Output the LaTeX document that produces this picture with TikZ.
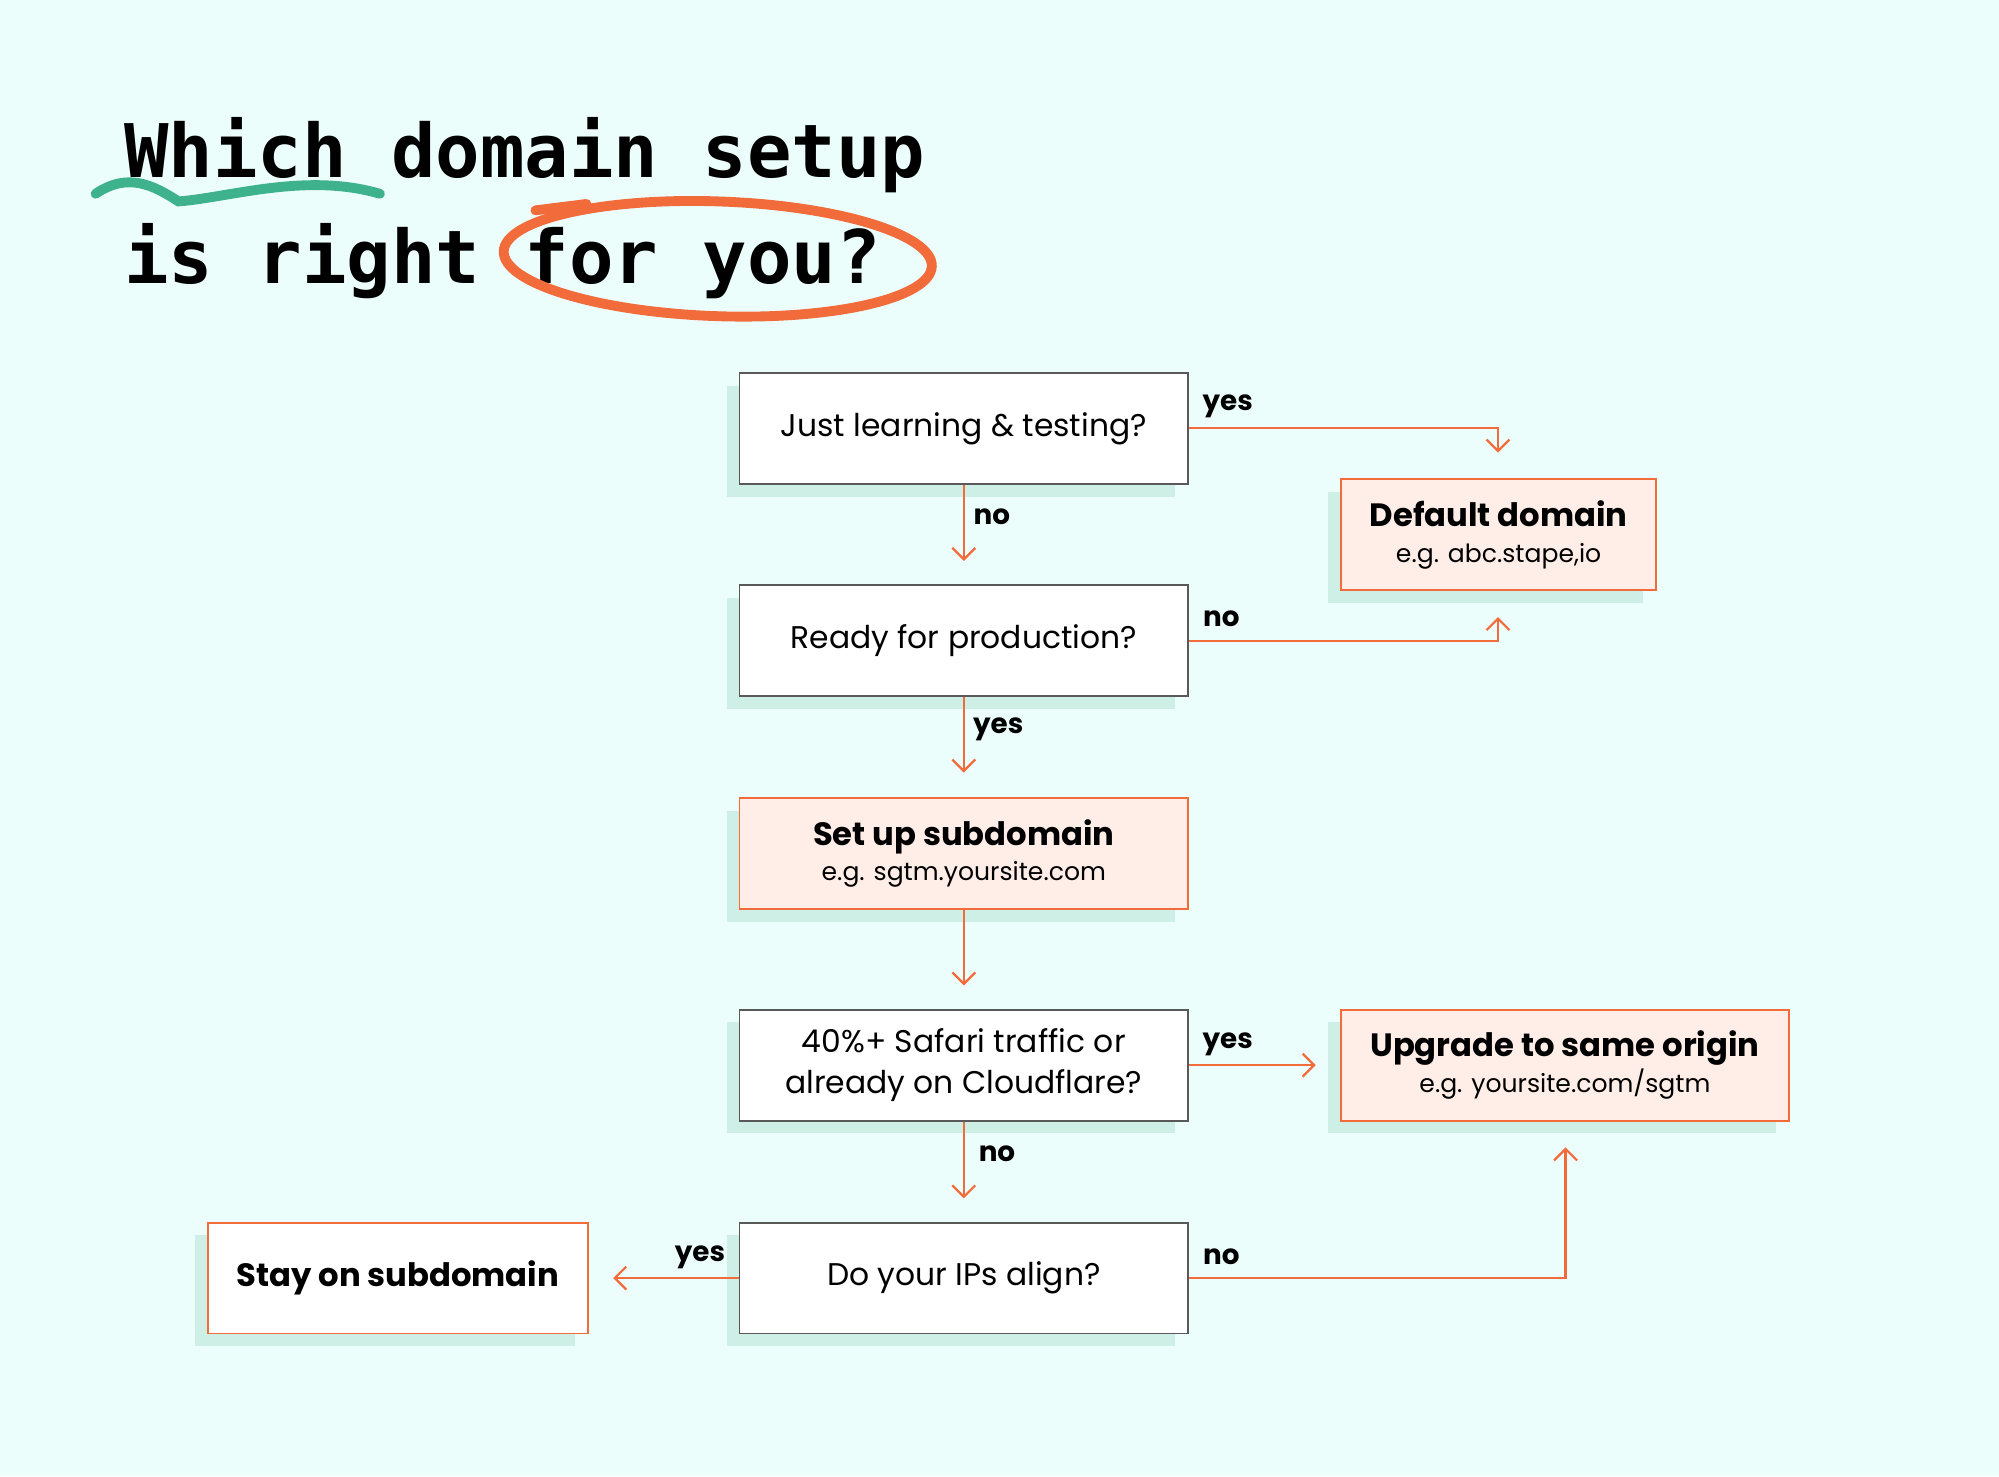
\documentclass[tikz,border=0pt]{standalone}
\usepackage{fontspec}
\setmainfont{Poppins}
\newfontfamily\titlefont{DejaVu Sans Mono}
\usetikzlibrary{arrows.meta}
\definecolor{fondo}{HTML}{ECFEFC}
\definecolor{sombra}{HTML}{CDEFE6}
\definecolor{naranja}{HTML}{F26B3A}
\definecolor{rosa}{HTML}{FFEDE8}
\definecolor{verde}{HTML}{3DB28C}
\tikzset{
  caja/.style={draw=black!65, fill=white, line width=0.4pt, minimum height=0.87cm, inner sep=0pt, align=center, font=\fontsize{7}{10}\selectfont,
    preaction={fill=sombra, transform canvas={xshift=-0.1cm, yshift=-0.1cm}}},
  final/.style={caja, draw=naranja, fill=rosa},
  flecha/.style={draw=naranja, line width=0.5pt, -{Straight Barb[length=0.9mm, width=1.8mm]}},
  etiq/.style={font=\bfseries\fontsize{6.2}{8}\selectfont},
  titu/.style={font=\titlefont\bfseries\fontsize{16.5}{20}\selectfont}
}
\begin{document}
\begin{tikzpicture}
		\fill[fondo] (0,0) rectangle (15.68,-11.58);
		\useasboundingbox (0,0) rectangle (15.68,-11.58);

		%Titulo
		\draw[verde, line width=2.2pt, line cap=round] (0.75,-1.52) .. controls (1.0,-1.35) and (1.2,-1.45) .. (1.4,-1.58) .. controls (1.8,-1.55) and (2.4,-1.35) .. (2.98,-1.52);
		\node[anchor=west, titu] (titulo1) at (0.85,-1.22) {Which domain setup};
		\node[anchor=west, titu] (titulo2) at (0.85,-2.05) {is right for you?};
		\draw[naranja, line width=2.2pt, rotate around={-2:(5.63,-2.03)}] (5.63,-2.03) ellipse (1.68cm and 0.45cm);
		\draw[naranja, line width=2.2pt, line cap=round] (4.2,-1.65) -- (4.6,-1.6);

		%Nodos
		\node [caja, minimum width=3.52cm] (preg1) at (7.56,-3.36) {Just learning \& testing?};
		\node [caja, minimum width=3.52cm] (preg2) at (7.56,-5.025) {Ready for production?};
		\node [final, minimum width=3.52cm] (sub) at (7.56,-6.695) {\textbf{\fontsize{7.2}{10}\selectfont Set up subdomain}\\[-2pt]{\fontsize{5.6}{8}\selectfont e.g. sgtm.yoursite.com}};
		\node [caja, minimum width=3.52cm] (preg3) at (7.56,-8.355) {40\%+ Safari traffic or\\[-1pt]already on Cloudflare?};
		\node [caja, minimum width=3.52cm] (preg4) at (7.56,-10.025) {Do your IPs align?};
		\node [final, minimum width=2.47cm] (defecto) at (11.755,-4.195) {\textbf{\fontsize{7.2}{10}\selectfont Default domain}\\[-2pt]{\fontsize{5.6}{8}\selectfont e.g. abc.stape,io}};
		\node [final, minimum width=3.51cm] (origen) at (12.275,-8.355) {\textbf{\fontsize{7.2}{10}\selectfont Upgrade to same origin}\\[-2pt]{\fontsize{5.6}{8}\selectfont e.g. yoursite.com/sgtm}};
		\node [final, fill=white, minimum width=2.98cm] (quedar) at (3.12,-10.025) {\textbf{\fontsize{7.2}{10}\selectfont Stay on subdomain}};

		\coordinate (c1) at (11.75,-3.55);
		\coordinate (c2) at (11.75,-4.84);
		\coordinate (c3) at (7.56,-4.40);
		\coordinate (c4) at (7.56,-6.06);
		\coordinate (c5) at (7.56,-7.73);
		\coordinate (c6) at (10.32,-8.355);
		\coordinate (c7) at (7.56,-9.40);
		\coordinate (c8) at (4.81,-10.025);
		\coordinate (c9) at (12.28,-9.00);

		%Arcos
		\draw[flecha] (preg1.east) -| (c1);
		\draw[flecha] (preg1.south) -- (c3);
		\draw[flecha] (preg2.east) -| (c2);
		\draw[flecha] (preg2.south) -- (c4);
		\draw[flecha] (sub.south) -- (c5);
		\draw[flecha] (preg3.east) -- (c6);
		\draw[flecha] (preg3.south) -- (c7);
		\draw[flecha] (preg4.west) -- (c8);
		\draw[flecha] (preg4.east) -| (c9);

		%Etiquetas
		\node [etiq] (e1) at (9.63,-3.19) {yes};
		\node [etiq] (e2) at (7.78,-4.05) {no};
		\node [etiq] (e3) at (9.58,-4.85) {no};
		\node [etiq] (e4) at (7.83,-5.72) {yes};
		\node [etiq] (e5) at (9.63,-8.19) {yes};
		\node [etiq] (e6) at (7.82,-9.05) {no};
		\node [etiq] (e7) at (5.49,-9.86) {yes};
		\node [etiq] (e8) at (9.58,-9.86) {no};
\end{tikzpicture}
\end{document}
